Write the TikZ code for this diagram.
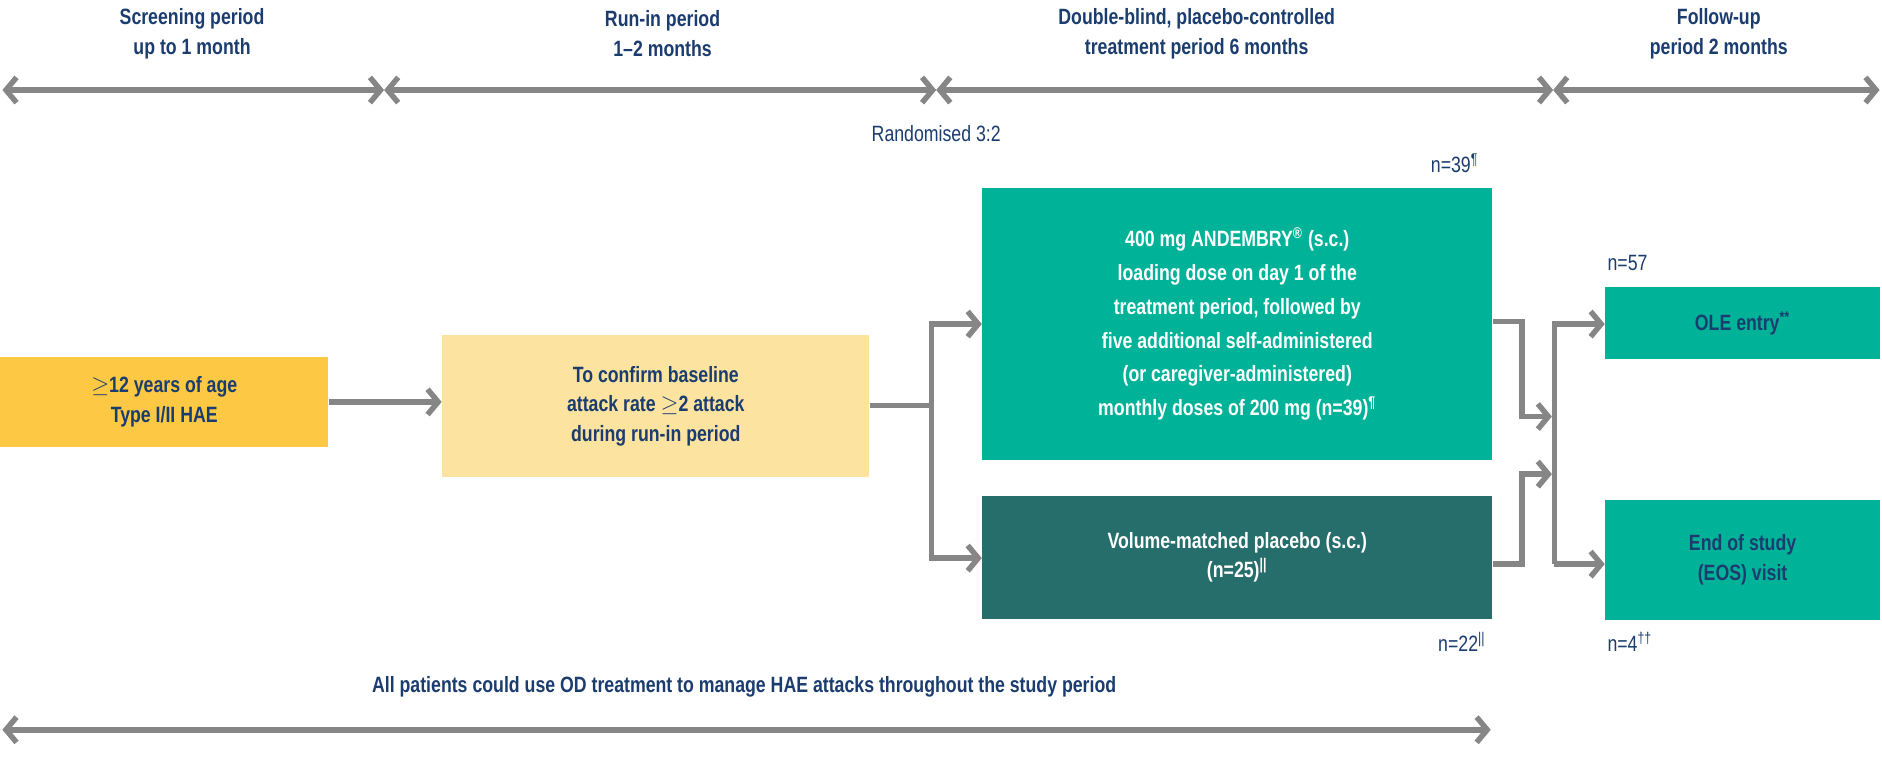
\documentclass[tikz,border=0pt]{standalone}
\usepackage{fontspec}
\setmainfont{Liberation Sans}[FakeStretch=0.8]
\usetikzlibrary{arrows.meta,positioning}
\definecolor{navy}{HTML}{1B3C6E}
\definecolor{lnegray}{HTML}{868686}
\definecolor{sun}{HTML}{FDC843}
\definecolor{sand}{HTML}{FDE3A0}
\definecolor{teal}{HTML}{00B398}
\definecolor{deepteal}{HTML}{266E6C}
\begin{document}
\begin{tikzpicture}[x=0.02cm,y=-0.02cm,>={Straight Barb[length=5pt,width=12pt]},
	every node/.style={font=\fontsize{10.5}{14}\selectfont\bfseries,text=navy,align=center},
	box/.style={inner sep=0pt,anchor=north west},
	line/.style={draw=lnegray,line width=2.6pt},
	span/.style={line,<->},
	note/.style={font=\fontsize{10.5}{14}\selectfont}]
	\useasboundingbox (0,0) rectangle (1568,646);
	% phase headings
	\node (hscr) at (160,28) {Screening period\\ up to 1 month};
	\node (hrun) at (552,28) {Run-in period\\ 1--2 months};
	\node (hdbl) at (997,28) {Double-blind, placebo-controlled\\ treatment period 6 months};
	\node (hfol) at (1432,28) {Follow-up\\ period 2 months};
	\coordinate (p0) at (2,75);
	\coordinate (p1) at (320,75);
	\coordinate (p2) at (780,75);
	\coordinate (p3) at (1294,75);
	\coordinate (p4) at (1566,75);
	\draw[span] (p0) -- (p1);
	\draw[span] (p1) -- (p2);
	\draw[span] (p2) -- (p3);
	\draw[span] (p3) -- (p4);
	\node[note] (rand) at (780,111) {Randomised 3:2};
	% boxes
	\node[box,fill=sun,minimum width=273*0.02cm,minimum height=75*0.02cm] (age) at (0,297) {};
	\node at (age.center) {$\geq$12 years of age\\ Type I/II HAE};
	\node[box,fill=sand,minimum width=356*0.02cm,minimum height=118*0.02cm] (runin) at (368,279) {};
	\node at (runin.center) {To confirm baseline\\ attack rate $\geq$2 attack\\ during run-in period};
	\node[box,fill=teal,minimum width=425*0.02cm,minimum height=227*0.02cm] (drug) at (818,156) {};
	\node[text=white,font=\fontsize{10.5}{16}\selectfont\bfseries] at (drug.center) {400 mg ANDEMBRY\textsuperscript{\textregistered} (s.c.)\\ loading dose on day 1 of the\\ treatment period, followed by\\ five additional self-administered\\ (or caregiver-administered)\\ monthly doses of 200 mg (n=39)\textsuperscript{\P}};
	\node[box,fill=deepteal,minimum width=425*0.02cm,minimum height=102*0.02cm] (plac) at (818,413) {};
	\node[text=white] at (plac.center) {Volume-matched placebo (s.c.)\\ (n=25)\textsuperscript{||}};
	\node[box,fill=teal,minimum width=229*0.02cm,minimum height=60*0.02cm] (ole) at (1337,239) {};
	\node at (ole.center) {OLE entry\textsuperscript{**}};
	\node[box,fill=teal,minimum width=229*0.02cm,minimum height=100*0.02cm] (eos) at (1337,416) {};
	\node at (eos.center) {End of study\\ (EOS) visit};
	% counts
	\node[note] (n39) at (1212,136) {n=39\textsuperscript{\P}};
	\node[note] (n57) at (1356,219) {n=57};
	\node[note] (n22) at (1218,535) {n=22\textsuperscript{||}};
	\node[note] (n4) at (1358,535) {n=4\textsuperscript{\textdagger\textdagger}};
	% connectors
	\coordinate (split) at (776,338);
	\coordinate (mrgA) at (1268,268);
	\coordinate (mrgB) at (1268,470);
	\coordinate (fork) at (1295,270);
	\draw[line,->] (age.east) -- (runin.west |- age.east);
	\draw[line] (runin.east |- split) -- (split);
	\draw[line,->] (split) |- (drug.west |- 0,270);
	\draw[line,->] (split) |- (plac.west |- 0,465);
	\draw[line,->] (drug.east |- mrgA) -- (mrgA) |- (1293,347);
	\draw[line,->] (plac.east |- mrgB) -- (mrgB) |- (1293,395);
	\draw[line,->] (1295,470) -- (fork) -- (ole.west |- fork);
	\draw[line,->] (1295,470) -- (eos.west |- 0,470);
	% bottom note
	\node (od) at (620,572) {All patients could use OD treatment to manage HAE attacks throughout the study period};
	\coordinate (b0) at (2,608);
	\coordinate (b1) at (1242,608);
	\draw[span] (b0) -- (b1);
\end{tikzpicture}
\end{document}
